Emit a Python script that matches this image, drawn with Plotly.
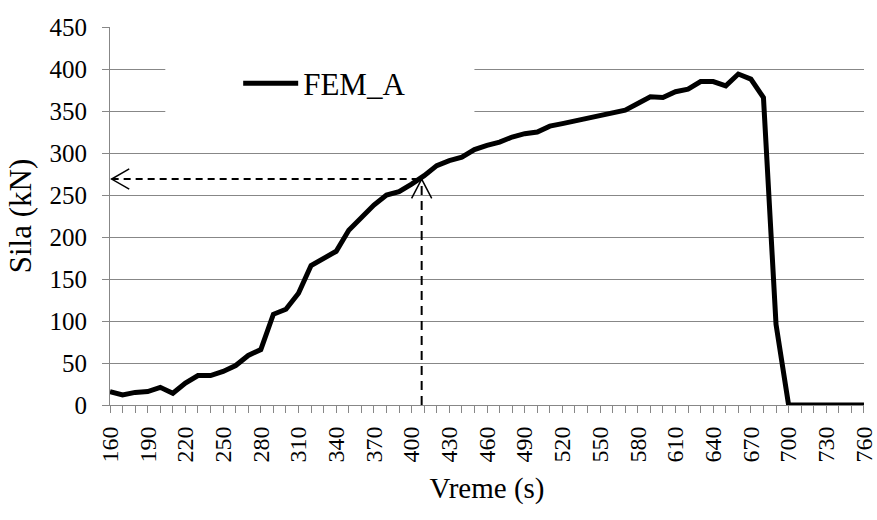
import plotly.graph_objects as go

# vreme (s) i sila (kN), ocitano sa grafika
vreme = [160, 170, 180, 190, 200, 210, 220, 230, 240, 250,
         260, 270, 280, 290, 300, 310, 320, 330, 340, 350,
         360, 370, 380, 390, 400, 410, 420, 430, 440, 450,
         460, 470, 480, 490, 500, 510, 520, 530, 540, 550,
         560, 570, 580, 590, 600, 610, 620, 630, 640, 650,
         660, 670, 680, 690, 700, 710, 720, 730, 740, 750, 760]
sila_fem_a = [16, 12, 15, 16, 21, 14, 26, 35, 35, 40,
              47, 59, 66, 108, 114, 133, 166, 175, 183, 208,
              223, 238, 250, 254, 263, 273, 285, 291, 295, 304,
              309, 313, 319, 323, 325, 332, 335, 338, 342, 344,
              347, 351, 359, 367, 366, 373, 376, 385, 385, 380,
              394, 388, 366, 96, 0, 0, 0, 0, 0, 0, 0]
x_ticks = [160, 190, 220, 250, 280, 310, 340, 370, 400, 430, 460,
           490, 520, 550, 580, 610, 640, 670, 700, 730, 760]

# tacka ocitavanja (strelice)
t_mark = 408
f_mark = 269

SERIF = "Times New Roman, Liberation Serif, DejaVu Serif, serif"
GRID = "#878787"

fig = go.Figure()
fig.add_trace(go.Scatter(
    x=vreme, y=sila_fem_a, mode="lines", name="FEM_A",
    line=dict(color="black", width=5),
))

shapes = [
    # bela pozadina legende preko mreze
    dict(type="rect", xref="x", yref="y", x0=204, x1=450, y0=315, y1=428,
         fillcolor="white", line=dict(width=0), layer="between"),
    # isprekidane linije
    dict(type="line", xref="x", yref="y", x0=161.3, x1=t_mark, y0=f_mark, y1=f_mark,
         line=dict(color="black", width=2, dash="7px,5px")),
    dict(type="line", xref="x", yref="y", x0=t_mark, x1=t_mark, y0=0, y1=f_mark,
         line=dict(color="black", width=2, dash="9px,6px")),
    # vrhovi strelica
    dict(type="path", xref="x", yref="y",
         path=f"M {161.3 + 14},{f_mark + 12} L 161.3,{f_mark} L {161.3 + 14},{f_mark - 12}",
         line=dict(color="black", width=1.5)),
    dict(type="path", xref="x", yref="y",
         path=f"M {t_mark - 8},{f_mark - 23} L {t_mark},{f_mark} L {t_mark + 8},{f_mark - 23}",
         line=dict(color="black", width=1.5)),
]

fig.update_layout(
    width=877, height=520,
    margin=dict(l=110, r=13, t=27, b=115),
    paper_bgcolor="white", plot_bgcolor="white",
    font=dict(family=SERIF, color="black", size=25),
    shapes=shapes,
    showlegend=True,
    legend=dict(x=0.17, y=0.85, xanchor="left", yanchor="middle",
                itemwidth=55,
                bgcolor="rgba(0,0,0,0)", font=dict(size=31, family=SERIF)),
    xaxis=dict(
        range=[159.99, 760.01], tickvals=x_ticks, tickangle=-90,
        automargin=False, ticklabeloverflow="allow",
        showgrid=False, zeroline=False,
        showline=True, linecolor=GRID, linewidth=1,
        ticks="outside", ticklen=7, tickcolor=GRID, tickwidth=1,
        minor=dict(dtick=10, tick0=160, ticks="outside", ticklen=7,
                   tickcolor=GRID, tickwidth=1, showgrid=False),
        tickfont=dict(size=24, family=SERIF, color="black"), ticklabelstandoff=4,
        layer="below traces",
        title=dict(text="Vreme (s)", font=dict(size=29, family=SERIF), standoff=16),
    ),
    yaxis=dict(
        range=[0, 450], dtick=50,
        automargin=False,
        showgrid=True, gridcolor=GRID, gridwidth=1, zeroline=False,
        showline=True, linecolor=GRID, linewidth=1,
        ticks="outside", ticklen=7, tickcolor=GRID, tickwidth=1,
        tickfont=dict(size=25, family=SERIF, color="black"), ticklabelstandoff=10,
        layer="below traces",
        title=dict(text="Sila (kN)", font=dict(size=31, family=SERIF), standoff=8),
    ),
)

fig.write_html("out.html", config={"displayModeBar": False},
               post_script="document.body.style.margin='0';")
